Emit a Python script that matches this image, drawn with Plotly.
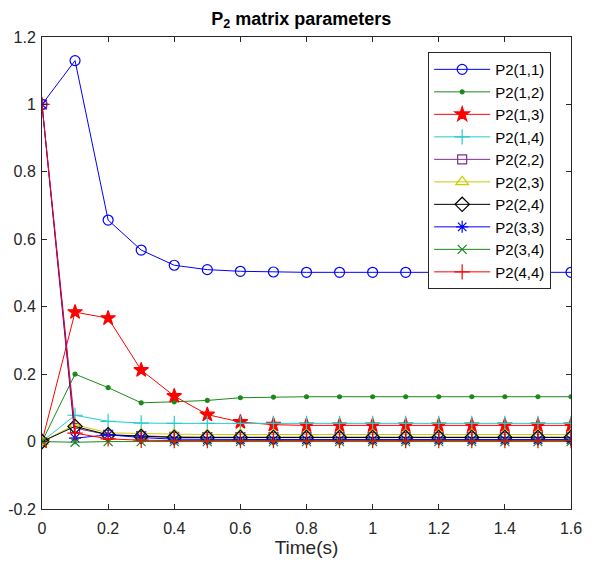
import plotly.graph_objects as go

t = [round(0.1 * i, 1) for i in range(17)]

p11 = [1.0, 1.13, 0.657, 0.568, 0.523, 0.510, 0.505, 0.503, 0.502, 0.502, 0.502, 0.502, 0.502, 0.502, 0.502, 0.502, 0.502]
p12 = [0.0, 0.200, 0.160, 0.115, 0.118, 0.122, 0.130, 0.132, 0.133, 0.133, 0.133, 0.133, 0.133, 0.133, 0.133, 0.133, 0.133]
p13 = [0.0, 0.384, 0.366, 0.212, 0.135, 0.080, 0.058, 0.050, 0.048, 0.048, 0.048, 0.048, 0.048, 0.048, 0.048, 0.048, 0.048]
p14 = [0.0, 0.078, 0.060, 0.055, 0.054, 0.054, 0.054, 0.054, 0.054, 0.054, 0.054, 0.054, 0.054, 0.054, 0.054, 0.054, 0.054]
p22 = [1.0, 0.040, 0.020, 0.016, 0.014, 0.013, 0.013, 0.013, 0.013, 0.013, 0.013, 0.013, 0.013, 0.013, 0.013, 0.013, 0.013]
p23 = [0.0, 0.050, 0.026, 0.023, 0.022, 0.021, 0.021, 0.021, 0.021, 0.021, 0.021, 0.021, 0.021, 0.021, 0.021, 0.021, 0.021]
p24 = [0.0, 0.045, 0.020, 0.015, 0.012, 0.012, 0.012, 0.012, 0.012, 0.012, 0.012, 0.012, 0.012, 0.012, 0.012, 0.012, 0.012]
p33 = [1.0, 0.010, 0.020, 0.012, 0.007, 0.006, 0.006, 0.006, 0.006, 0.006, 0.006, 0.006, 0.006, 0.006, 0.006, 0.006, 0.006]
p34 = [0.0, -0.002, 0.0, 0.0, 0.0, 0.0, 0.0, 0.0, 0.0, 0.0, 0.0, 0.0, 0.0, 0.0, 0.0, 0.0, 0.0]
p44 = [1.0, 0.025, 0.008, 0.004, 0.003, 0.003, 0.003, 0.003, 0.003, 0.003, 0.003, 0.003, 0.003, 0.003, 0.003, 0.003, 0.003]

names = ["P2(1,1)", "P2(1,2)", "P2(1,3)", "P2(1,4)", "P2(2,2)", "P2(2,3)", "P2(2,4)", "P2(3,3)", "P2(3,4)", "P2(4,4)"]
series = [p11, p12, p13, p14, p22, p23, p24, p33, p34, p44]

styles = [
    dict(color="#0000FF", symbol="circle-open", size=10),
    dict(color="#1A8A1A", symbol="circle", size=4),
    dict(color="#FF0000", symbol="star", size=11),
    dict(color="#22CCCC", symbol="cross-thin-open", size=11),
    dict(color="#7E2F8E", symbol="square-open", size=9),
    dict(color="#CCCC00", symbol="triangle-up-open", size=11),
    dict(color="#000000", symbol="diamond-open", size=11),
    dict(color="#0000FF", symbol="asterisk-open", size=10),
    dict(color="#1A8A1A", symbol="x-thin-open", size=9),
    dict(color="#FF0000", symbol="cross-thin-open", size=11),
]

fig = go.Figure()
for name, ys, st in zip(names, series, styles):
    fig.add_trace(go.Scatter(
        x=t, y=ys, name=name, mode="lines+markers",
        line=dict(color=st["color"], width=1),
        marker=dict(symbol=st["symbol"], size=st["size"], color=st["color"],
                    line=dict(color=st["color"], width=1.2)),
    ))

FONT = "Liberation Sans, Arial, sans-serif"

axis_common = dict(
    showline=True, linecolor="#262626", linewidth=1, mirror="allticks",
    ticks="inside", ticklen=5, tickcolor="#262626", showgrid=False, zeroline=False,
    automargin=False,
    tickfont=dict(family=FONT, size=16, color="#262626"),
)

fig.update_layout(
    width=596, height=568,
    margin=dict(l=34, r=33, t=29, b=67),
    plot_bgcolor="white", paper_bgcolor="white",
    title=dict(text="<b>P<sub>2</sub> matrix parameters</b>", x=0.492, xanchor="center",
               y=0.982, yanchor="middle",
               font=dict(family=FONT, size=18, color="black")),
    xaxis=dict(range=[0, 1.6], tickvals=[0, 0.2, 0.4, 0.6, 0.8, 1, 1.2, 1.4, 1.6],
               ticktext=["0", "0.2", "0.4", "0.6", "0.8", "1", "1.2", "1.4", "1.6"],
               ticklabelstandoff=5,
               title=dict(text="Time(s)", font=dict(family=FONT, size=19, color="#262626"), standoff=4),
               **axis_common),
    yaxis=dict(range=[-0.2, 1.2], tickvals=[-0.2, 0, 0.2, 0.4, 0.6, 0.8, 1, 1.2],
               ticktext=["-0.2", "0", "0.2", "0.4", "0.6", "0.8", "1", "1.2"],
               ticklabelstandoff=2,
               **axis_common),
    legend=dict(x=0.9625, y=0.968, xanchor="right", yanchor="top",
                bgcolor="white", bordercolor="#262626", borderwidth=1,
                font=dict(family=FONT, size=15, color="black"),
                tracegroupgap=0, itemwidth=56),
    showlegend=True,
)

fig.write_html("out.html")
